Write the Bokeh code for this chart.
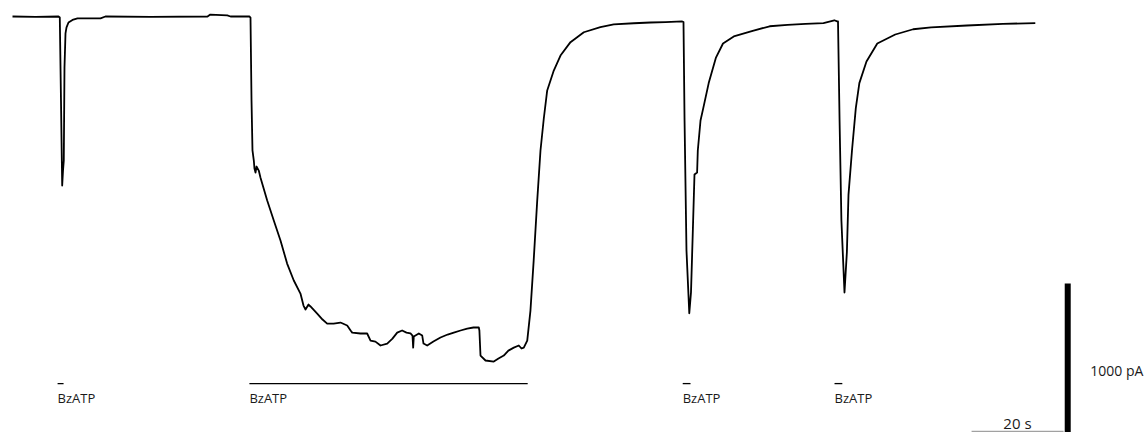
from bokeh.plotting import figure
from bokeh.models import Range1d
from bokeh.core.properties import value
from bokeh.embed import file_html
from bokeh.resources import INLINE

# Whole-cell current trace (time in s, current in pA)
time_s = [0, 5.0, 10.0, 10.28, 10.54, 10.8, 10.98, 11.15, 11.3, 11.52, 11.74, 12.17, 13.04, 14.13,
          19.13, 20.2, 30.0, 42.4, 43.0, 46.7, 47.4, 51.5,
          51.74, 51.96, 52.17, 52.46, 52.6, 52.83, 53.04, 53.54, 53.9, 55.37, 56.8, 58.26, 59.7,
          61.15, 62.6, 63.26, 63.7, 64.35, 64.78, 66.24, 67.4, 68.41, 69.8, 71.3, 72.76, 73.5,
          73.85, 75.65, 77.1, 77.83, 78.9, 80.0, 81.46, 82.6, 83.63, 84.7, 85.65, 86.52, 86.96,
          87.1, 87.24, 88.33, 89.07, 89.35, 90.15, 91.5, 93.04, 94.6, 95.93, 97.4, 98.85, 100.2,
          101.37, 101.5, 101.74, 102.83, 104.63, 105.65, 106.8, 107.8, 108.98, 110.07, 110.65,
          111.15, 111.9, 112.6, 113.3, 114.07, 114.78, 115.5, 116.24, 117.67, 119.13, 121.3,
          124.2, 127.8, 130.7, 135.07, 138.7, 141.96, 145.59,
          145.87, 146.1, 146.52, 147.13, 147.5, 147.87, 148.26, 148.83, 148.98, 149.57, 150.17,
          151.35, 152.9, 154.46, 156.8, 160.72, 164.6, 168.5, 172.4, 176.3, 178.65, 179.28,
          179.46, 179.8, 180.2, 180.87, 181.39, 181.74, 182.5, 183.33, 184.1, 185.65, 188.0,
          191.9, 195.8, 199.7, 207.5, 215.3, 222.35]
current_pA = [0, -3, 0, -7, -560, -1127, -1027, -960, -340, -113, -73, -40, -23, -13,
              -13, 0, -2, 0, 13, 7, 0, 0,
              -7, -560, -893, -960, -1013, -1040, -1000, -1027, -1073, -1227, -1360, -1493, -1647,
              -1760, -1847, -1927, -1953, -1920, -1933, -1980, -2020, -2047, -2047, -2040, -2060, -2093,
              -2107, -2113, -2113, -2160, -2167, -2193, -2180, -2147, -2107, -2093, -2107, -2113, -2127,
              -2207, -2133, -2113, -2127, -2180, -2193, -2167, -2140, -2120, -2107, -2093, -2080, -2073,
              -2073, -2093, -2260, -2293, -2300, -2280, -2260, -2227, -2207, -2193, -2213,
              -2207, -2160, -1960, -1627, -1227, -893, -680, -493, -360, -260, -171,
              -105, -71, -53, -45, -40, -37, -33,
              -37, -693, -1560, -1978, -1840, -1460, -1053, -1040, -893, -693, -611,
              -444, -276, -180, -133, -97, -65, -56, -49, -44, -25, -32,
              -33, -693, -1360, -1840, -1571, -1187, -893, -611, -444, -300, -180,
              -120, -85, -73, -60, -49, -44]

# BzATP application periods (s)
stim_start = [9.8, 51.5, 145.7, 178.7]
stim_end = [11.1, 112.0, 147.4, 180.4]
stim_labels = ["BzATP", "BzATP", "BzATP", "BzATP"]
stim_level = -2447
label_level = -2545

# Scale bars
time_bar_start = [208.5]
time_bar_end = [228.5]
time_bar_level = -2765
time_bar_label = ["20 s"]
current_bar_x = [229.4]
current_bar_top = [-1780]
current_bar_bottom = [-2780]
current_bar_label = ["1000 pA"]

p = figure(width=1148, height=432,
           x_range=Range1d(-2.61, 246.96), y_range=Range1d(-2773, 106.7),
           output_backend="svg", toolbar_location=None, min_border=0,
           x_axis_location=None, y_axis_location=None)
p.grid.visible = False
p.outline_line_color = None
p.background_fill_color = "white"
p.border_fill_color = "white"

p.line(time_s, current_pA, line_color="black", line_width=1.8, line_join="round")

p.segment(x0=stim_start, y0=[stim_level] * 4, x1=stim_end, y1=[stim_level] * 4,
          line_color="black", line_width=1.3)
p.text(x=stim_start, y=[label_level] * 4, text=stim_labels,
       text_font=value("Open Sans"), text_font_size="13px", text_color="#1a1a1a",
       text_align="left", text_baseline="alphabetic")

p.segment(x0=time_bar_start, y0=[time_bar_level], x1=time_bar_end, y1=[time_bar_level],
          line_color="#8a8a8a", line_width=1)
p.text(x=[215.4], y=[-2713], text=time_bar_label,
       text_font=value("Open Sans"), text_font_size="15px", text_color="#1a1a1a",
       text_align="left", text_baseline="alphabetic")

p.segment(x0=current_bar_x, y0=current_bar_top, x1=current_bar_x, y1=current_bar_bottom,
          line_color="black", line_width=6)
p.text(x=[234.3], y=[-2360], text=current_bar_label,
       text_font=value("Open Sans"), text_font_size="14px", text_color="#1a1a1a",
       text_align="left", text_baseline="alphabetic")

open("out.html", "w").write(file_html(p, INLINE))
